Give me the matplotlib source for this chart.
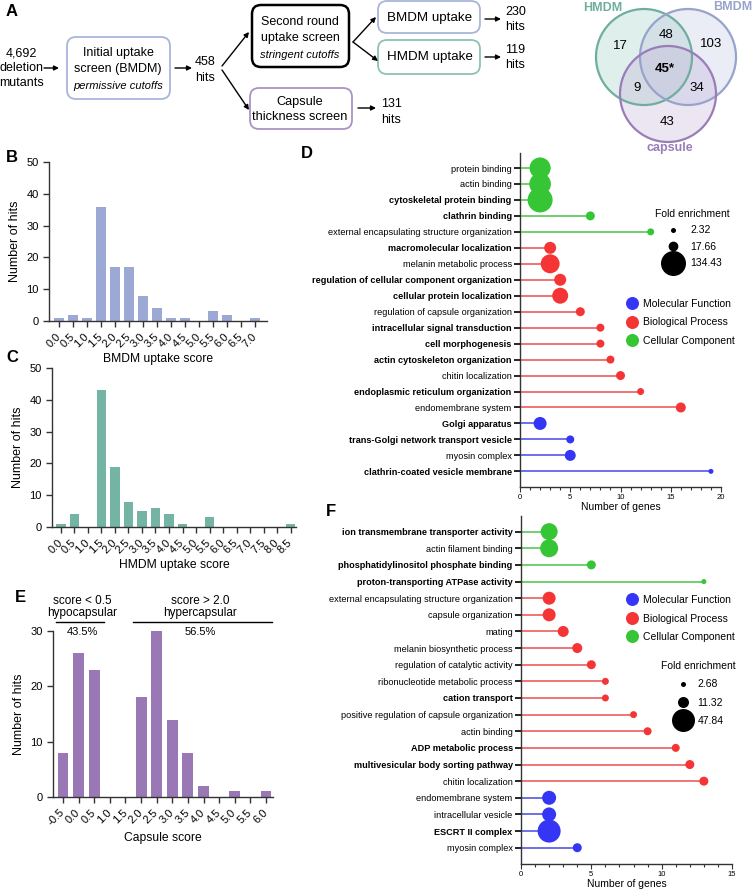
import matplotlib
matplotlib.use('Agg')
import matplotlib.pyplot as plt
import numpy as np
from matplotlib.patches import FancyBboxPatch, Circle
from matplotlib.lines import Line2D

plt.rcParams['font.family'] = ['Liberation Sans', 'DejaVu Sans']

W, H = 755, 891

# ---------------- data ----------------
bmdm_scores = ['0.0', '0.5', '1.0', '1.5', '2.0', '2.5', '3.0', '3.5', '4.0', '4.5',
               '5.0', '5.5', '6.0', '6.5', '7.0']
bmdm_counts = [1, 2, 1, 36, 17, 17, 8, 4, 1, 1, 0, 3, 2, 0, 1]

hmdm_scores = ['0.0', '0.5', '1.0', '1.5', '2.0', '2.5', '3.0', '3.5', '4.0', '4.5',
               '5.0', '5.5', '6.0', '6.5', '7.0', '7.5', '8.0', '8.5']
hmdm_counts = [1, 4, 0, 43, 19, 8, 5, 6, 4, 1, 0, 3, 0, 0, 0, 0, 0, 1]

capsule_scores = ['-0.5', '0.0', '0.5', '1.0', '1.5', '2.0', '2.5', '3.0', '3.5', '4.0',
                  '4.5', '5.0', '5.5', '6.0']
capsule_counts = [8, 26, 23, 0, 0, 18, 30, 14, 8, 2, 0, 1, 0, 1]

venn_sets = ['HMDM', 'BMDM', 'capsule']
venn_regions = ['HMDM only', 'HMDM+BMDM', 'BMDM only', 'all', 'HMDM+capsule', 'BMDM+capsule', 'capsule only']
venn_counts = ['17', '48', '103', '45*', '9', '34', '43']

hit_counts = {'start': '4,692', 'initial': '458', 'bmdm': '230', 'hmdm': '119', 'capsule': '131'}

d_terms = ['protein binding', 'actin binding', 'cytoskeletal protein binding', 'clathrin binding',
           'external encapsulating structure organization', 'macromolecular localization',
           'melanin metabolic process', 'regulation of cellular component organization',
           'cellular protein localization', 'regulation of capsule organization',
           'intracellular signal transduction', 'cell morphogenesis',
           'actin cytoskeleton organization', 'chitin localization',
           'endoplasmic reticulum organization', 'endomembrane system', 'Golgi apparatus',
           'trans-Golgi network transport vesicle', 'myosin complex',
           'clathrin-coated vesicle membrane']
d_genes = [2, 2, 2, 7, 13, 3, 3, 4, 4, 6, 8, 8, 9, 10, 12, 16, 2, 5, 5, 19]
d_fold = [95, 100, 134.43, 14.6, 7.6, 28.5, 76, 28.5, 53, 14.6, 10.9, 10.9, 10.9, 14.6,
          7.6, 18.8, 34, 10.9, 23.4, 2.32]
d_cat = ['CC'] * 5 + ['BP'] * 11 + ['MF'] * 4
d_bold = [0, 0, 1, 1, 0, 1, 0, 1, 1, 0, 1, 1, 1, 0, 1, 0, 1, 1, 0, 1]
d_fold_legend = [2.32, 17.66, 134.43]

f_terms = ['ion transmembrane transporter activity', 'actin filament binding',
           'phosphatidylinositol phosphate binding', 'proton-transporting ATPase activity',
           'external encapsulating structure organization', 'capsule organization', 'mating',
           'melanin biosynthetic process', 'regulation of catalytic activity',
           'ribonucleotide metabolic process', 'cation transport',
           'positive regulation of capsule organization', 'actin binding',
           'ADP metabolic process', 'multivesicular body sorting pathway',
           'chitin localization', 'endomembrane system', 'intracellular vesicle',
           'ESCRT II complex', 'myosin complex']
f_genes = [2, 2, 5, 13, 2, 2, 3, 4, 5, 6, 6, 8, 9, 11, 12, 13, 2, 2, 2, 4]
f_fold = [26.3, 29.5, 7.7, 2.68, 15.6, 15.6, 11.3, 9.4, 7.7, 4.8, 4.8, 4.8, 6.2, 6.2,
          7.7, 7.7, 18, 18, 47.84, 7.7]
f_cat = ['CC'] * 4 + ['BP'] * 12 + ['MF'] * 4
f_bold = [1, 0, 1, 1, 0, 0, 0, 0, 0, 0, 1, 0, 0, 1, 1, 0, 0, 0, 1, 0]
f_fold_legend = [2.68, 11.32, 47.84]

cat_names = {'MF': 'Molecular Function', 'BP': 'Biological Process', 'CC': 'Cellular Component'}
marker_col = {'MF': '#3535F5', 'BP': '#F53535', 'CC': '#35C535'}
line_col = {'MF': '#6F6FE8', 'BP': '#EE7575', 'CC': '#72CF72'}

# ---------------- figure ----------------
fig = plt.figure(figsize=(W / 100, H / 100), dpi=100)
ax0 = fig.add_axes([0, 0, 1, 1])
ax0.set_xlim(0, W)
ax0.set_ylim(H, 0)
ax0.axis('off')
ax0.set_zorder(10)


def px_axes(left, top, right, bottom):
    return fig.add_axes([left / W, 1 - bottom / H, (right - left) / W, (bottom - top) / H])


def txt(x, y, s, **kw):
    kw.setdefault('ha', 'center')
    kw.setdefault('va', 'center')
    kw.setdefault('fontsize', 9)
    ax0.text(x, y, s, **kw)


def box(x0, y0, x1, y1, ec, lw=1.3):
    ax0.add_patch(FancyBboxPatch((x0, y0), x1 - x0, y1 - y0,
                                 boxstyle='round,pad=0,rounding_size=9',
                                 ec=ec, fc='white', lw=lw))


def arrow(x0, y0, x1, y1):
    ax0.annotate('', xy=(x1, y1), xytext=(x0, y0),
                 arrowprops=dict(arrowstyle='-|>', color='black', lw=1.0,
                                 mutation_scale=7, shrinkA=0, shrinkB=0))


# panel letters
for lab, (x, y) in {'A': (12, 12), 'B': (12, 157), 'C': (12, 357), 'D': (307, 153),
                    'E': (20, 597), 'F': (331, 511)}.items():
    txt(x, y, lab, fontsize=12, fontweight='bold')

# ---- Panel A flowchart ----
blue_ec, green_ec, purple_ec = '#A9B6D9', '#8CC3B3', '#AB93C6'
txt(21, 53, hit_counts['start'])
txt(21, 68, 'deletion')
txt(22, 83, 'mutants')
arrow(44, 68, 59, 68)
box(67, 37, 170, 99, blue_ec)
txt(118, 53, 'Initial uptake')
txt(118, 69, 'screen (BMDM)')
txt(118, 86, 'permissive cutoffs', style='italic', fontsize=8)
arrow(175, 68, 192, 68)
txt(205, 62, hit_counts['initial'])
txt(205, 78, 'hits')
arrow(222, 66, 249, 32)
arrow(222, 70, 249, 110)
box(252, 5, 349, 67, 'black', lw=1.8)
txt(300, 22, 'Second round')
txt(300, 38, 'uptake screen')
txt(300, 55, 'stringent cutoffs', style='italic', fontsize=8)
arrow(353, 42, 376, 17)
arrow(353, 42, 378, 61)
box(378, 1, 480, 33, blue_ec)
txt(430, 18, 'BMDM uptake', fontsize=9.6)
box(378, 40, 480, 74, green_ec)
txt(430, 57, 'HMDM uptake', fontsize=9.6)
arrow(485, 19, 501, 19)
arrow(485, 57, 501, 57)
txt(505, 12, hit_counts['bmdm'], ha='left')
txt(505, 27, 'hits', ha='left')
txt(505, 50, hit_counts['hmdm'], ha='left')
txt(505, 65, 'hits', ha='left')
box(250, 88, 352, 129, purple_ec)
txt(300, 102, 'Capsule', fontsize=9.2)
txt(300, 117, 'thickness screen', fontsize=9.2)
arrow(358, 108, 376, 108)
txt(381, 104, hit_counts['capsule'], ha='left')
txt(381, 120, 'hits', ha='left')

# ---- Venn ----
venn_geom = {'HMDM': ((644, 57), '#6FAE9E', '#8CC8B8'),
             'BMDM': ((688, 57), '#98A3CC', '#B5BEE0'),
             'capsule': ((668, 94), '#9A7CB8', '#BBA6D3')}
for name in venn_sets:
    c, ec, fc = venn_geom[name]
    ax0.add_patch(Circle(c, 48, fc=fc, ec='none', alpha=0.28))
for name in venn_sets:
    c, ec, fc = venn_geom[name]
    ax0.add_patch(Circle(c, 48, fc='none', ec=ec, lw=1.6))
txt(603, 8, 'HMDM', fontsize=9, fontweight='bold', color='#6FAE9E')
txt(733, 7, 'BMDM', fontsize=9, fontweight='bold', color='#98A3CC')
txt(670, 148, 'capsule', fontsize=9, fontweight='bold', color='#9A7CB8')
venn_pos = [(620, 46), (666, 35), (711, 44), (665, 69), (637, 88), (697, 88), (667, 122)]
for reg, cnt, (x, y) in zip(venn_regions, venn_counts, venn_pos):
    txt(x, y, cnt, fontsize=9.5, fontweight='bold' if reg == 'all' else 'normal')


# ---- histograms ----
def hist(ax, labels, counts, color, ymax, yticks, xlabel, xlim):
    x = np.arange(len(labels))
    ax.bar(x, counts, width=0.7, color=color)
    ax.set_xticks(x)
    ax.set_xticklabels(labels, rotation=45, ha='right', va='center',
                       rotation_mode='anchor', fontsize=8)
    ax.set_xlim(*xlim)
    ax.set_ylim(0, ymax)
    ax.set_yticks(yticks)
    ax.tick_params(axis='y', labelsize=8, length=4, width=1, color='#333333')
    ax.tick_params(axis='x', length=4, width=1, color='#333333', pad=6)
    for s in ['top', 'right']:
        ax.spines[s].set_visible(False)
    for s in ['left', 'bottom']:
        ax.spines[s].set_color('#333333')
        ax.spines[s].set_linewidth(1.0)
    ax.set_ylabel('Number of hits', fontsize=9)
    ax.set_xlabel(xlabel, fontsize=8.7, labelpad=3)


axB = px_axes(49, 162, 267, 321)
hist(axB, bmdm_scores, bmdm_counts, '#9CA9D4', 50, [0, 10, 20, 30, 40, 50],
     'BMDM uptake score', (-0.7, 14.85))
axC = px_axes(52, 368, 296, 527)
hist(axC, hmdm_scores, hmdm_counts, '#74B4A5', 50, [0, 10, 20, 30, 40, 50],
     'HMDM uptake score', (-0.66, 17.4))
axE = px_axes(53, 631, 273, 797)
hist(axE, capsule_scores, capsule_counts, '#9A78B6', 30, [0, 10, 20, 30],
     'Capsule score', (-0.64, 13.45))

# E annotations
txt(82, 601, 'score < 0.5', fontsize=8.5)
txt(82, 613, 'hypocapsular', fontsize=8.5)
ax0.plot([56, 104], [622, 622], color='black', lw=1)
txt(82, 632, '43.5%', fontsize=8)
txt(200, 601, 'score > 2.0', fontsize=8.5)
txt(200, 613, 'hypercapsular', fontsize=8.5)
ax0.plot([133, 272], [622, 622], color='black', lw=1)
txt(200, 632, '56.5%', fontsize=8)


# ---- lollipops ----
def size_px(f, fmin, fmax, dmin, dmax):
    f = np.asarray(f, dtype=float)
    return np.sqrt(dmin ** 2 + (f - fmin) / (fmax - fmin) * (dmax ** 2 - dmin ** 2))


def lollipop(ax, terms, genes, fold, cats, bold, fleg, dmin, dmax, xmax,
             cat_anchor, cat_spacing, size_anchor, size_textpad, size_spacing):
    y = np.arange(len(terms))
    fmin, fmax = min(fleg), max(fleg)
    for yi, g, c in zip(y, genes, cats):
        ax.plot([0, g], [yi, yi], color=line_col[c], lw=1.4, zorder=1, solid_capstyle='butt')
    d = size_px(fold, fmin, fmax, dmin, dmax)
    ax.scatter(genes, y, s=(0.72 * d) ** 2, c=[marker_col[c] for c in cats],
               linewidths=0, zorder=3, clip_on=False)
    ax.set_ylim(len(terms) - 0.02, -0.94)
    ax.set_xlim(0, xmax)
    ax.set_yticks(y)
    ax.set_yticklabels(terms, fontsize=6.6)
    for lbl, b in zip(ax.get_yticklabels(), bold):
        lbl.set_fontweight('bold' if b else 'normal')
    for tk, c in zip(ax.yaxis.get_major_ticks(), cats):
        tk.tick1line.set_color(line_col[c])
    ax.tick_params(axis='y', length=4, width=1.2, pad=2)
    ax.set_xticks(np.arange(0, xmax + 1, 5))
    ax.set_xticks(np.arange(0, xmax + 1, 1), minor=True)
    ax.tick_params(axis='x', which='major', labelsize=5.5, length=3.5, width=0.8,
                   color='#333333', pad=1.5)
    ax.tick_params(axis='x', which='minor', length=2, width=0.8, color='#333333')
    for s in ['top', 'right']:
        ax.spines[s].set_visible(False)
    for s in ['left', 'bottom']:
        ax.spines[s].set_color('#333333')
        ax.spines[s].set_linewidth(1.0)
    ax.set_xlabel('Number of genes', fontsize=7.5, labelpad=1)

    handles = [Line2D([], [], ls='', marker='o', color=marker_col[k], markeredgewidth=0,
                      markersize=0.72 * 13) for k in ['MF', 'BP', 'CC']]
    leg1 = ax.legend(handles, [cat_names[k] for k in ['MF', 'BP', 'CC']],
                     loc='upper left', bbox_to_anchor=(cat_anchor[0] / W, 1 - cat_anchor[1] / H),
                     bbox_transform=fig.transFigure, frameon=False, fontsize=7.5,
                     handlelength=1.0, handletextpad=0.55, labelspacing=cat_spacing,
                     borderpad=0, borderaxespad=0)
    ax.add_artist(leg1)
    dl = size_px(fleg, fmin, fmax, dmin, dmax)
    handles2 = [Line2D([], [], ls='', marker='o', color='black', markeredgewidth=0,
                       markersize=0.72 * di) for di in dl]
    ax.legend(handles2, [f'{v:.2f}' for v in fleg], title='Fold enrichment',
              title_fontsize=7.5, loc='upper left',
              bbox_to_anchor=(size_anchor[0] / W, 1 - size_anchor[1] / H),
              bbox_transform=fig.transFigure, frameon=False, fontsize=7.5,
              handlelength=2.0, handletextpad=size_textpad, labelspacing=size_spacing,
              borderpad=0, borderaxespad=0)


axD = px_axes(520, 153, 721, 487)
lollipop(axD, d_terms, d_genes, d_fold, d_cat, d_bold, d_fold_legend, 5, 25, 20,
         (627, 299), 0.8, (655, 209), 0.6, 0.62)
axF = px_axes(521, 516, 732, 864)
lollipop(axF, f_terms, f_genes, f_fold, f_cat, f_bold, f_fold_legend, 5, 23, 15,
         (627, 595), 0.82, (661, 661), 0.35, 0.8)

fig.savefig('out.png', dpi=100)
